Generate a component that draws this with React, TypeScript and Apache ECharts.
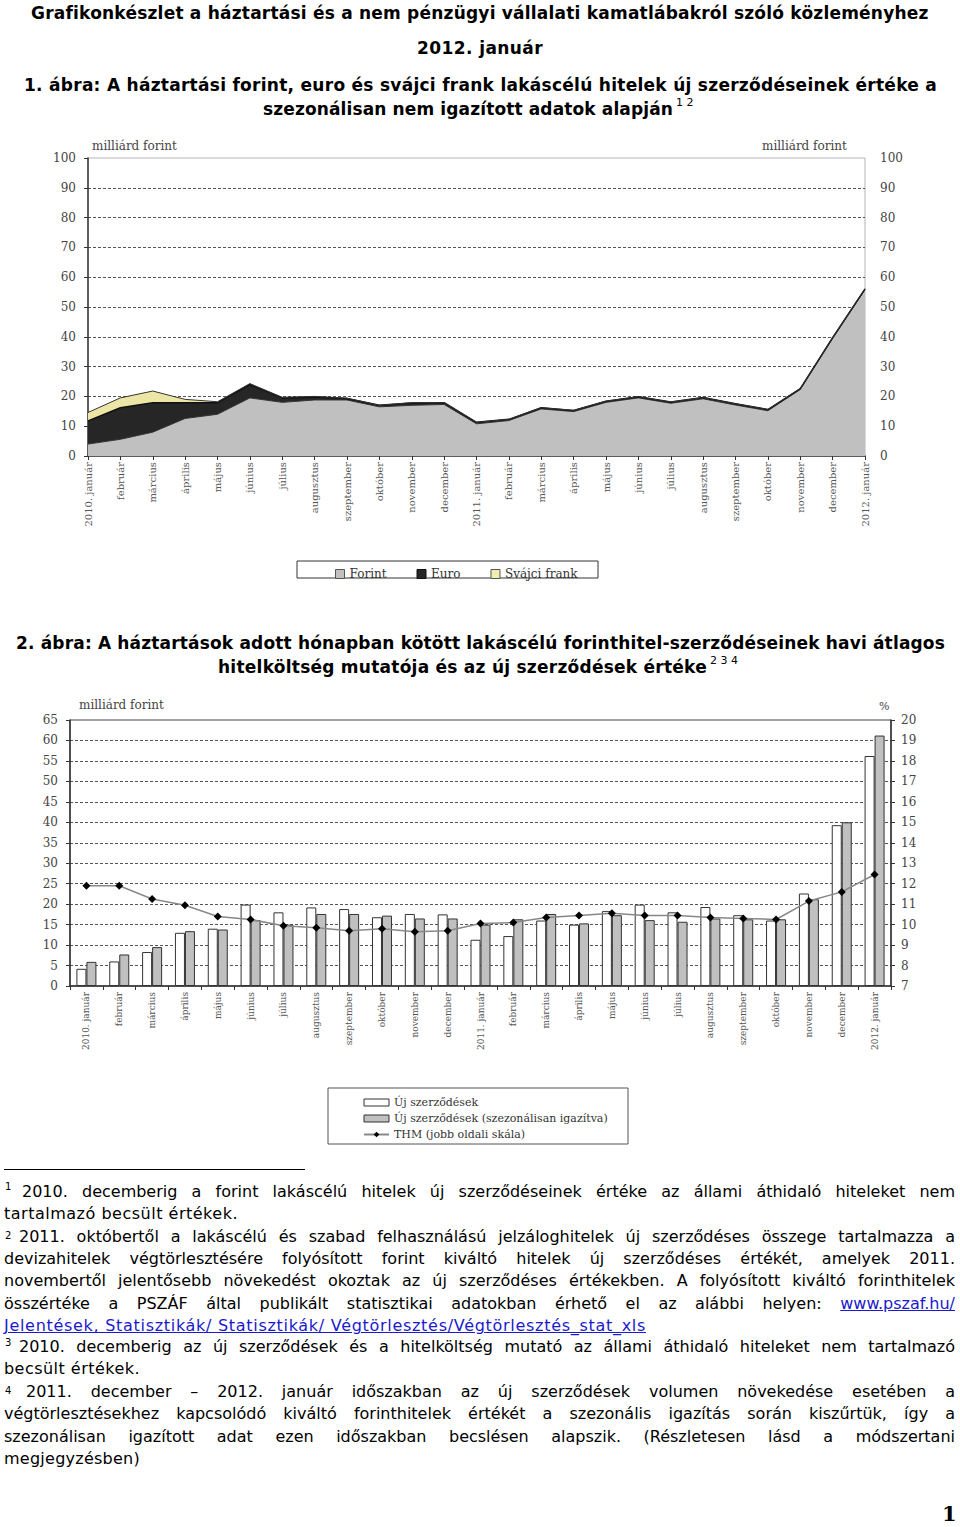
import React, { useEffect, useRef } from "react";
import * as echarts from "echarts";

// ---------- data ----------
const months = [
  "2010. január", "február", "március", "április", "május", "június", "július",
  "augusztus", "szeptember", "október", "november", "december",
  "2011. január", "február", "március", "április", "május", "június", "július",
  "augusztus", "szeptember", "október", "november", "december", "2012. január",
];

// Chart 1 (milliárd forint, stacked)
const forintValues = [4.0, 5.6, 8.0, 12.6, 14.0, 19.5, 18.0, 18.8, 18.8, 16.5, 17.0, 17.3, 10.8, 11.9, 15.8, 14.9, 18.0, 19.5, 17.7, 19.2, 17.1, 15.2, 22.3, 39.4, 55.8];
const euroValues = [7.8, 10.6, 9.9, 5.3, 3.9, 4.5, 1.5, 1.0, 0.5, 0.5, 0.8, 0.6, 0.5, 0.4, 0.4, 0.4, 0.4, 0.4, 0.4, 0.4, 0.4, 0.4, 0.3, 0.3, 0.3];
const frankValues = [2.8, 3.3, 3.9, 1.1, 0.3, 0.3, 0.2, 0.2, 0.1, 0, 0.1, 0, 0, 0, 0, 0, 0, 0, 0, 0, 0, 0, 0, 0, 0];

// Chart 2
const newContracts = [4.2, 6.0, 8.3, 13.0, 14.0, 19.9, 18.0, 19.2, 18.8, 16.8, 17.6, 17.5, 11.3, 12.2, 16.0, 15.0, 18.3, 19.9, 18.0, 19.3, 17.3, 16.0, 22.6, 39.3, 56.2];
const newContractsSA = [5.9, 7.7, 9.5, 13.4, 13.8, 16.1, 15.0, 17.6, 17.6, 17.2, 16.5, 16.5, 15.0, 16.3, 17.6, 15.3, 17.3, 16.1, 15.7, 16.5, 16.3, 16.3, 21.2, 40.0, 61.2];
const thmValues = [11.9, 11.9, 11.25, 10.95, 10.4, 10.25, 9.95, 9.85, 9.7, 9.8, 9.65, 9.7, 10.05, 10.1, 10.35, 10.45, 10.55, 10.45, 10.45, 10.35, 10.3, 10.25, 11.15, 11.6, 12.45];

const SERIF = '"DejaVu Serif", serif';
const SANS = '"DejaVu Sans", Verdana, sans-serif';

let measureCtx: CanvasRenderingContext2D | null = null;
function textWidth(text: string, font: string): number {
  if (!measureCtx) measureCtx = document.createElement("canvas").getContext("2d");
  if (!measureCtx) return text.length * 8;
  measureCtx.font = font;
  return measureCtx.measureText(text).width;
}

function FitText(props: { text: string; left: number; baseline: number; width: number; size: number; bold?: boolean; color?: string; underline?: boolean }) {
  const { text, left, baseline, width, size, bold = false, color = "#000", underline = false } = props;
  const font = `${bold ? "bold " : ""}${size}px ${SANS}`;
  const w = textWidth(text, font);
  const ls = (width - w) / text.length;
  return (
    <div
      style={{
        position: "absolute",
        left,
        top: baseline - 0.846 * size,
        fontFamily: SANS,
        fontSize: size,
        fontWeight: bold ? "bold" : "normal",
        lineHeight: `${size}px`,
        letterSpacing: `${ls}px`,
        whiteSpace: "nowrap",
        color,
        textDecoration: underline ? "underline" : "none",
      }}
    >
      {text}
    </div>
  );
}

function Sup(props: { text: string; left: number; top: number; size?: number; bold?: boolean }) {
  const { text, left, top, size = 11, bold = false } = props;
  return (
    <div style={{ position: "absolute", left, top, fontFamily: SANS, fontSize: size, fontWeight: bold ? "bold" : "normal", lineHeight: `${size}px`, whiteSpace: "pre", color: "#000" }}>
      {text}
    </div>
  );
}

const FN_SIZE = 16;
function JLine(props: { plain: string; left: number; baseline: number; children?: React.ReactNode; right?: number }) {
  const { plain, left, baseline, children, right = 955 } = props;
  const width = right - left;
  const font = `${FN_SIZE}px ${SANS}`;
  const w = textWidth(plain, font);
  let ls = 0;
  if (w > width - 8) ls = (width - 8 - w) / plain.length;
  return (
    <div
      style={{
        position: "absolute",
        left,
        width,
        top: baseline - 0.846 * FN_SIZE,
        fontFamily: SANS,
        fontSize: FN_SIZE,
        lineHeight: `${FN_SIZE}px`,
        letterSpacing: `${ls}px`,
        textAlign: "justify",
        textAlignLast: "justify" as any,
        color: "#000",
      }}
    >
      {children ?? plain}
    </div>
  );
}

function Charts() {
  const ref = useRef<HTMLDivElement>(null);
  useEffect(() => {
    if (!ref.current) return;
    const chart = echarts.init(ref.current, undefined, { renderer: "svg" });
    const dashed = { type: [3, 2] as any, color: "#555", width: 1 };
    const option: any = {
      animation: false,
      grid: [
        { left: 88, top: 158, width: 777, height: 298, show: true, borderColor: "#b5b5b5", borderWidth: 1, backgroundColor: "transparent" },
        { left: 70, top: 720, width: 821, height: 266, show: true, borderColor: "#444", borderWidth: 1, backgroundColor: "transparent" },
      ],
      xAxis: [
        {
          type: "category", gridIndex: 0, data: months, boundaryGap: false,
          axisLine: { lineStyle: { color: "#333", width: 1.5 } },
          axisTick: { show: true, alignWithLabel: true, length: 4, lineStyle: { color: "#333" } },
          axisLabel: { rotate: 90, interval: 0, fontFamily: SERIF, fontSize: 10, color: "#555", margin: 6 },
          splitLine: { show: false },
        },
        {
          type: "category", gridIndex: 1, data: months, boundaryGap: true,
          axisLine: { lineStyle: { color: "#333", width: 1.5 } },
          axisTick: { show: true, length: 4, lineStyle: { color: "#333" } },
          axisLabel: { rotate: 90, interval: 0, fontFamily: SERIF, fontSize: 9, color: "#555", margin: 6 },
          splitLine: { show: false },
        },
      ],
      yAxis: [
        {
          type: "value", gridIndex: 0, min: 0, max: 100, interval: 10, position: "left",
          axisLine: { show: true, lineStyle: { color: "#333", width: 1.5 } },
          axisTick: { show: true, length: 4, lineStyle: { color: "#333" } },
          axisLabel: { fontFamily: SERIF, fontSize: 12, color: "#444", margin: 12 },
          splitLine: { show: true, showMinLine: false, showMaxLine: false, lineStyle: dashed },
        },
        {
          type: "value", gridIndex: 0, min: 0, max: 100, interval: 10, position: "right",
          axisLine: { show: false }, axisTick: { show: false },
          axisLabel: { fontFamily: SERIF, fontSize: 12, color: "#444", margin: 15 },
          splitLine: { show: false },
        },
        {
          type: "value", gridIndex: 1, min: 0, max: 65, interval: 5, position: "left",
          axisLine: { show: true, lineStyle: { color: "#333", width: 1.5 } },
          axisTick: { show: true, length: 4, lineStyle: { color: "#333" } },
          axisLabel: { fontFamily: SERIF, fontSize: 12, color: "#444", margin: 12 },
          splitLine: { show: true, showMinLine: false, showMaxLine: false, lineStyle: dashed },
        },
        {
          type: "value", gridIndex: 1, min: 7, max: 20, interval: 1, position: "right",
          axisLine: { show: true, lineStyle: { color: "#333", width: 1.5 } },
          axisTick: { show: true, length: 4, lineStyle: { color: "#333" } },
          axisLabel: { fontFamily: SERIF, fontSize: 12, color: "#444", margin: 10 },
          splitLine: { show: false },
        },
      ],
      legend: [
        {
          left: 330, top: 563, itemWidth: 9, itemHeight: 9, itemGap: 30, selectedMode: false,
          textStyle: { fontFamily: SERIF, fontSize: 12, color: "#333" },
          data: [
            { name: "Forint", icon: "rect", itemStyle: { color: "#c0c0c0", borderColor: "#555", borderWidth: 1 } },
            { name: "Euro", icon: "rect", itemStyle: { color: "#262626", borderColor: "#111", borderWidth: 1 } },
            { name: "Svájci frank", icon: "rect", itemStyle: { color: "#f1ecb0", borderColor: "#555", borderWidth: 1 } },
          ],
        },
        {
          orient: "vertical", left: 358, top: 1092, itemWidth: 25, itemHeight: 7, itemGap: 5, selectedMode: false,
          textStyle: { fontFamily: SERIF, fontSize: 11, color: "#333" },
          data: [
            { name: "Új szerződések", icon: "rect", itemStyle: { color: "#fff", borderColor: "#333", borderWidth: 1 } },
            { name: "Új szerződések (szezonálisan igazítva)", icon: "rect", itemStyle: { color: "#c0c0c0", borderColor: "#333", borderWidth: 1 } },
            { name: "THM (jobb oldali skála)" },
          ],
        },
      ],
      graphic: [
        { type: "rect", shape: { x: 297, y: 561, width: 301, height: 17 }, style: { fill: "none", stroke: "#333", lineWidth: 1 }, z: 1 },
        { type: "rect", shape: { x: 328, y: 1088, width: 300, height: 56 }, style: { fill: "none", stroke: "#555", lineWidth: 1 }, z: 1 },
        { type: "text", x: 92, y: 146, style: { text: "milliárd forint", fontFamily: SERIF, fontSize: 12, fill: "#444", verticalAlign: "middle" } },
        { type: "text", x: 762, y: 146, style: { text: "milliárd forint", fontFamily: SERIF, fontSize: 12, fill: "#444", verticalAlign: "middle" } },
        { type: "text", x: 79, y: 705, style: { text: "milliárd forint", fontFamily: SERIF, fontSize: 12, fill: "#444", verticalAlign: "middle" } },
        { type: "text", x: 879, y: 706, style: { text: "%", fontFamily: SERIF, fontSize: 11, fill: "#444", verticalAlign: "middle" } },
      ],
      series: [
        {
          name: "Forint", type: "line", xAxisIndex: 0, yAxisIndex: 0, stack: "hitel", data: forintValues,
          symbol: "none", color: "#c0c0c0", lineStyle: { color: "#333", width: 1 }, areaStyle: { color: "#c0c0c0", opacity: 1 },
        },
        {
          name: "Euro", type: "line", xAxisIndex: 0, yAxisIndex: 0, stack: "hitel", data: euroValues,
          symbol: "none", color: "#262626", lineStyle: { color: "#111", width: 1.5 }, areaStyle: { color: "#262626", opacity: 1 },
        },
        {
          name: "Svájci frank", type: "line", xAxisIndex: 0, yAxisIndex: 0, stack: "hitel", data: frankValues,
          symbol: "none", color: "#f1ecb0", lineStyle: { color: "#333", width: 1 }, areaStyle: { color: "#ece6a6", opacity: 1 },
        },
        {
          name: "Új szerződések", type: "bar", xAxisIndex: 1, yAxisIndex: 2, data: newContracts,
          barWidth: 10, barGap: "0%", itemStyle: { color: "#ffffff", borderColor: "#333", borderWidth: 1 },
        },
        {
          name: "Új szerződések (szezonálisan igazítva)", type: "bar", xAxisIndex: 1, yAxisIndex: 2, data: newContractsSA,
          barWidth: 10, barGap: "0%", itemStyle: { color: "#c0c0c0", borderColor: "#333", borderWidth: 1 },
        },
        {
          name: "THM (jobb oldali skála)", type: "line", xAxisIndex: 1, yAxisIndex: 3, data: thmValues, z: 5,
          symbol: "diamond", symbolSize: 8, color: "#000",
          lineStyle: { color: "#888", width: 1.5 }, itemStyle: { color: "#000" },
        },
      ],
    };
    chart.setOption(option);
    return () => chart.dispose();
  }, []);
  return <div ref={ref} style={{ position: "absolute", left: 0, top: 0, width: 960, height: 1527 }} />;
}

export default function App() {
  const link = { color: "#1a1acc", textDecoration: "underline" };
  return (
    <div style={{ position: "absolute", left: 0, top: 0, width: 960, height: 1527, background: "#fff", overflow: "hidden" }}>
      <Charts />
      <FitText text="Grafikonkészlet a háztartási és a nem pénzügyi vállalati kamatlábakról szóló közleményhez" left={31} baseline={19} width={897} size={17} bold />
      <FitText text="2012. január" left={417} baseline={54} width={126} size={17} bold />
      <FitText text="1. ábra: A háztartási forint, euro és svájci frank lakáscélú hitelek új szerződéseinek értéke a" left={24} baseline={91} width={913} size={17} bold />
      <FitText text="szezonálisan nem igazított adatok alapján" left={263} baseline={115} width={410} size={17} bold />
      <Sup text="1 2" left={676} top={97} size={11} />
      <FitText text="2. ábra: A háztartások adott hónapban kötött lakáscélú forinthitel-szerződéseinek havi átlagos" left={16} baseline={649} width={929} size={17} bold />
      <FitText text="hitelköltség mutatója és az új szerződések értéke" left={218} baseline={673} width={489} size={17} bold />
      <Sup text="2 3 4" left={710} top={655} size={11} />

      <div style={{ position: "absolute", left: 4, top: 1169, width: 301, height: 1, background: "#000" }} />

      <Sup text="1" left={5} top={1182} size={10} />
      <JLine left={22} baseline={1198} plain="2010. decemberig a forint lakáscélú hitelek új szerződéseinek értéke az állami áthidaló hiteleket nem" />
      <FitText text="tartalmazó becsült értékek." left={4} baseline={1220} width={234} size={FN_SIZE} />
      <Sup text="2" left={5} top={1231} size={10} />
      <JLine left={19} baseline={1243} plain="2011. októbertől a lakáscélú és szabad felhasználású jelzáloghitelek új szerződéses összege tartalmazza a" />
      <JLine left={4} baseline={1265} plain="devizahitelek végtörlesztésére folyósított forint kiváltó hitelek új szerződéses értékét, amelyek 2011." />
      <JLine left={4} baseline={1287} plain="novembertől jelentősebb növekedést okoztak az új szerződéses értékekben.  A folyósított kiváltó forinthitelek" />
      <JLine left={4} baseline={1310} plain="összértéke a PSZÁF által publikált statisztikai adatokban érhető el az alábbi helyen: www.pszaf.hu/">
        összértéke a PSZÁF által publikált statisztikai adatokban érhető el az alábbi helyen: <span style={link}>www.pszaf.hu/</span>
      </JLine>
      <FitText text="Jelentések, Statisztikák/ Statisztikák/ Végtörlesztés/Végtörlesztés_stat_xls" left={4} baseline={1332} width={642} size={FN_SIZE} color="#1a1acc" underline />
      <Sup text="3" left={5} top={1338} size={10} />
      <JLine left={19} baseline={1353} plain="2010. decemberig az új szerződések és a hitelköltség mutató az állami áthidaló hiteleket nem tartalmazó" />
      <FitText text="becsült értékek." left={4} baseline={1375} width={136} size={FN_SIZE} />
      <Sup text="4" left={5} top={1386} size={10} />
      <JLine left={26} baseline={1398} plain="2011. december – 2012. január időszakban az új szerződések volumen növekedése esetében a" />
      <JLine left={4} baseline={1420} plain="végtörlesztésekhez kapcsolódó kiváltó forinthitelek értékét a szezonális igazítás során kiszűrtük, így a" />
      <JLine left={4} baseline={1443} plain="szezonálisan igazított adat ezen időszakban becslésen alapszik. (Részletesen lásd a módszertani" />
      <FitText text="megjegyzésben)" left={4} baseline={1465} width={136} size={FN_SIZE} />

      <div style={{ position: "absolute", left: 942, top: 1503, fontFamily: SERIF, fontWeight: "bold", fontSize: 21, lineHeight: "21px", color: "#000" }}>1</div>
    </div>
  );
}
